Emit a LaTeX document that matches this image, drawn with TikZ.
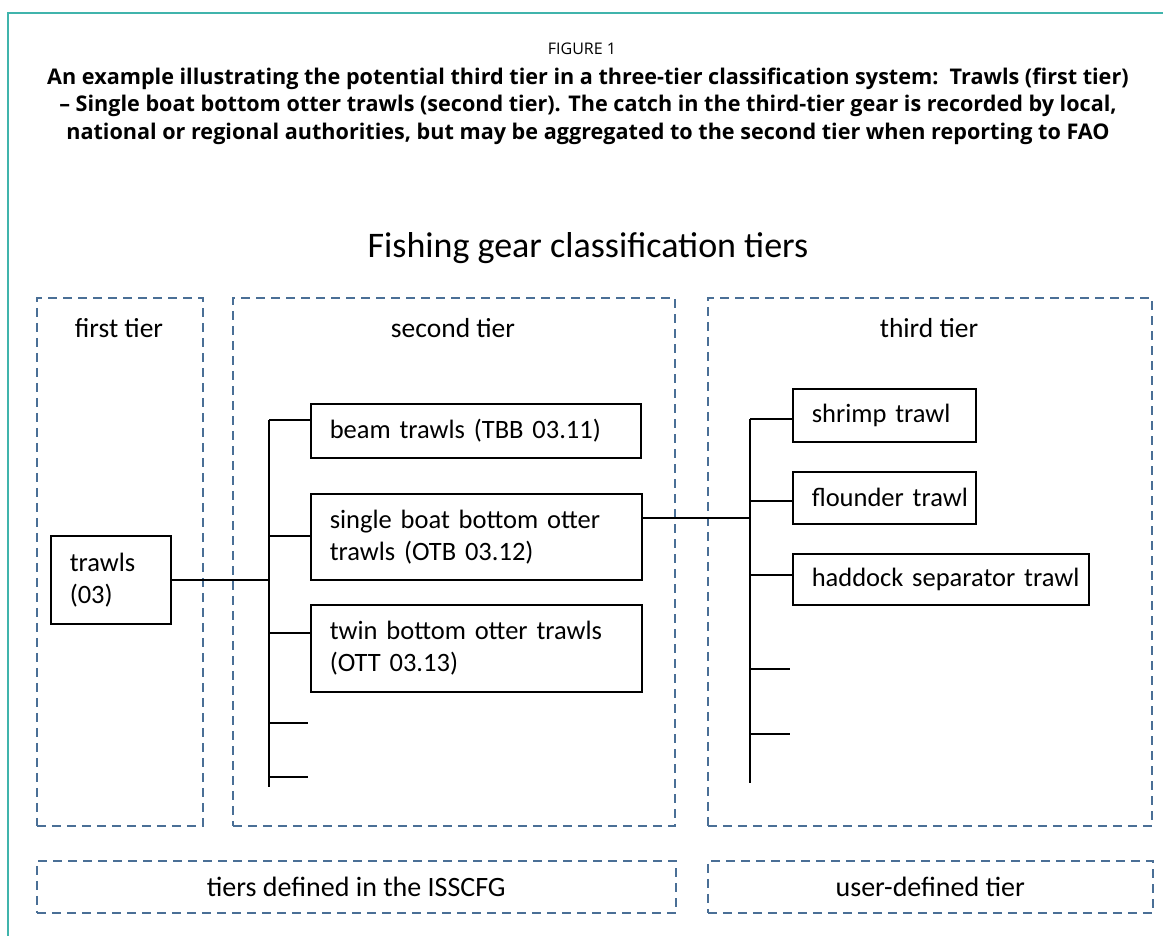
\documentclass[tikz,border=0pt]{standalone}
\usepackage{fontspec}
\setmainfont{Carlito}
\newfontfamily\capfont{Open Sans}
\usetikzlibrary{positioning}
\definecolor{framegreen}{RGB}{64,180,172}
\definecolor{tierblue}{RGB}{74,111,150}

\begin{document}
\begin{tikzpicture}[x=1pt,y=-1pt]
\tikzset{tier/.style = {draw=tierblue,line width=1.6pt,dash pattern=on 9pt off 6pt,anchor=north west,inner sep=0pt,font=\fontsize{28}{32}\selectfont}}
\tikzset{tierlabel/.style = {font=\fontsize{27.5}{32}\selectfont}}
\tikzset{gear/.style = {draw,line width=1.5pt,anchor=north west,align=left,inner xsep=19pt,inner ysep=0pt,font=\fontsize{26.5}{32}\selectfont}}
\tikzset{link/.style = {line width=1.6pt}}
\useasboundingbox (0,0) rectangle (1163,936);
\draw[framegreen,line width=2pt] (1163,13) -- (8,13) -- (8,936);
% caption
\node[font=\capfont\fontsize{16}{19}\selectfont] (fig) at (582,49) {FIGURE 1};
\node[font=\capfont\bfseries\fontsize{21.6}{27.5}\selectfont,align=center] (caption) at (588,106)
 {An example illustrating the potential third tier in a three-tier classification system:\ \ Trawls (first tier)\\
  – Single boat bottom otter trawls (second tier). The catch in the third-tier gear is recorded by local,\\
  national or regional authorities, but may be aggregated to the second tier when reporting to FAO};
\node[font=\fontsize{36}{42}\selectfont] (title) at (588,248) {Fishing gear classification tiers};
% tiers
\node[tier,minimum width=166pt,minimum height=528pt] (first) at (36,297) {};
\node[tier,minimum width=442pt,minimum height=528pt] (second) at (232,297) {};
\node[tier,minimum width=444pt,minimum height=528pt] (third) at (707,297) {};
\node[tier,minimum width=639pt,minimum height=52pt] (isscfg) at (36,860) {tiers defined in the ISSCFG};
\node[tier,minimum width=445pt,minimum height=52pt] (user) at (707,860) {user-defined tier};
\node[tierlabel] (lab1) at (119,328) {first tier};
\node[tierlabel] (lab2) at (453,328) {second tier};
\node[tierlabel] (lab3) at (929,328) {third tier};
% gears
\node[gear,text width=82pt,minimum height=88pt] (trawls) at (50,535) {trawls\\(03)};
\node[gear,text width=292pt,minimum height=54pt] (beam) at (310,403) {beam trawls (TBB 03.11)};
\node[gear,text width=293pt,minimum height=86pt] (single) at (310,493) {single boat bottom otter\\trawls (OTB 03.12)};
\node[gear,text width=293pt,minimum height=87pt] (twin) at (310,604) {twin bottom otter trawls\\(OTT 03.13)};
\node[gear,text width=145pt,minimum height=53pt] (shrimp) at (792,388) {\mbox{shrimp trawl}};
\node[gear,text width=145pt,minimum height=52pt] (flounder) at (792,471) {\mbox{flounder trawl}};
\node[gear,text width=258pt,minimum height=51pt] (haddock) at (792,553) {\mbox{haddock separator trawl}};
% second tier tree
\coordinate (top2) at (269,420);
\coordinate (bot2) at (269,787);
\draw[link] (top2) -- (bot2);
\foreach \n/\y in {beam/420,single/536,twin/633} {
  \coordinate (t\n) at (269,\y);
  \draw[link] (t\n) -- (t\n -| \n.west);
}
\foreach \y [count=\i] in {723,777} {
  \coordinate (e\i) at (308,\y);
  \draw[link] (e\i -| top2) -- (e\i);
}
\draw[link] (trawls.east) -- (trawls.east -| top2);
% third tier tree
\coordinate (top3) at (750,419);
\coordinate (bot3) at (750,783);
\draw[link] (top3) -- (bot3);
\foreach \n/\y in {shrimp/419,flounder/501,haddock/575} {
  \coordinate (t\n) at (750,\y);
  \draw[link] (t\n) -- (t\n -| \n.west);
}
\foreach \y [count=\i] in {669,734} {
  \coordinate (f\i) at (790,\y);
  \draw[link] (f\i -| top3) -- (f\i);
}
\path ([yshift=19pt]single.east) coordinate (out);
\draw[link] (out) -- (out -| top3);
\end{tikzpicture}
\end{document}
